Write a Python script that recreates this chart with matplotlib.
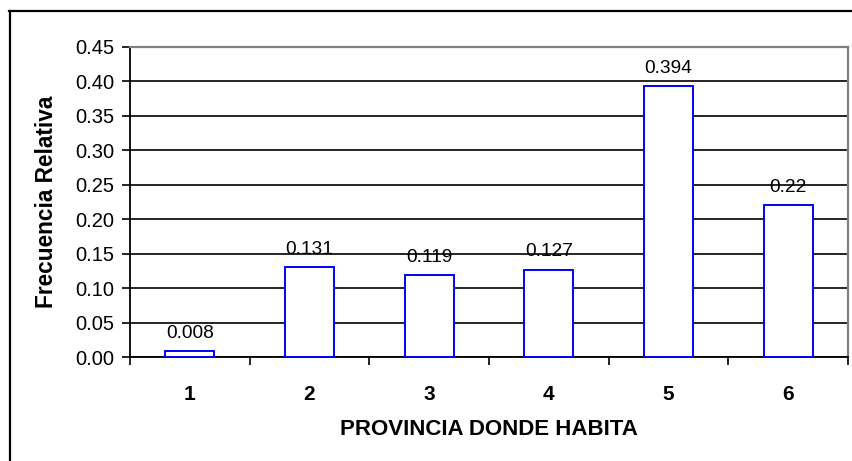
import matplotlib
matplotlib.use("Agg")
import matplotlib.pyplot as plt
from matplotlib.lines import Line2D
from matplotlib.ticker import FixedLocator, MultipleLocator

# data
provincias = ["1", "2", "3", "4", "5", "6"]
frecuencia = [0.008, 0.131, 0.119, 0.127, 0.394, 0.22]
etiquetas = ["0.008", "0.131", "0.119", "0.127", "0.394", "0.22"]

plt.rcParams["font.family"] = ["Liberation Sans", "DejaVu Sans"]

W, H = 853, 461
fig = plt.figure(figsize=(W / 100, H / 100), dpi=100)
fig.patch.set_facecolor("white")

# plot area in pixels: x 130..848, y 47..357
ax = fig.add_axes([130 / W, 1 - 357 / H, 718 / W, 310 / H])

pos = list(range(len(provincias)))
ax.bar(pos, frecuencia, width=0.41, facecolor="white", edgecolor="#0000ff",
       linewidth=1.4, zorder=3)
for x, v, lab in zip(pos, frecuencia, etiquetas):
    ax.annotate(lab, (x, v), xytext=(0, 6.5), textcoords="offset points",
                ha="center", va="bottom", fontsize=13.8, color="black",
                zorder=4)

ax.set_xlim(-0.5, len(provincias) - 0.5)
ax.set_ylim(0, 0.45)

ax.yaxis.set_major_locator(MultipleLocator(0.05))
ax.yaxis.set_major_formatter(lambda v, p: f"{v:.2f}")
ax.tick_params(axis="y", direction="out", length=6, width=1.2, pad=5,
               labelsize=14.5, colors="black")
ax.grid(axis="y", color="black", linewidth=1.2, zorder=1)

# ticks at category boundaries, labels centred between them
ax.xaxis.set_major_locator(FixedLocator([i - 0.5 for i in range(len(provincias) + 1)]))
ax.xaxis.set_major_formatter(lambda v, p: "")
ax.xaxis.set_minor_locator(FixedLocator(pos))
ax.set_xticks(pos, provincias, minor=True)
ax.tick_params(axis="x", which="major", direction="out", length=6, width=1.2)
ax.tick_params(axis="x", which="minor", length=0, pad=20, labelsize=15)
for t in ax.get_xticklabels(minor=True):
    t.set_fontweight("bold")

for side in ("left", "bottom"):
    ax.spines[side].set_color("black")
    ax.spines[side].set_linewidth(1.3)
for side in ("top", "right"):
    ax.spines[side].set_color("#808080")
    ax.spines[side].set_linewidth(1.6)
ax.set_axisbelow(True)

ax.set_xlabel("PROVINCIA DONDE HABITA", fontsize=16, fontweight="bold")
ax.xaxis.set_label_coords(0.5, -0.2)
ax.set_ylabel("Frecuencia Relativa", fontsize=16.3, fontweight="bold")
ax.yaxis.set_label_coords(-0.100, 0.5)

# outer chart frame (cut off at right and bottom in the reference)
fig.add_artist(Line2D([9.5 / W, 9.5 / W], [0, 1 - 11 / H], color="black",
                      linewidth=1.6, transform=fig.transFigure))
fig.add_artist(Line2D([9 / W, 1], [1 - 11.5 / H, 1 - 11.5 / H], color="black",
                      linewidth=1.6, transform=fig.transFigure))

fig.savefig("out.png", dpi=100, facecolor="white")
